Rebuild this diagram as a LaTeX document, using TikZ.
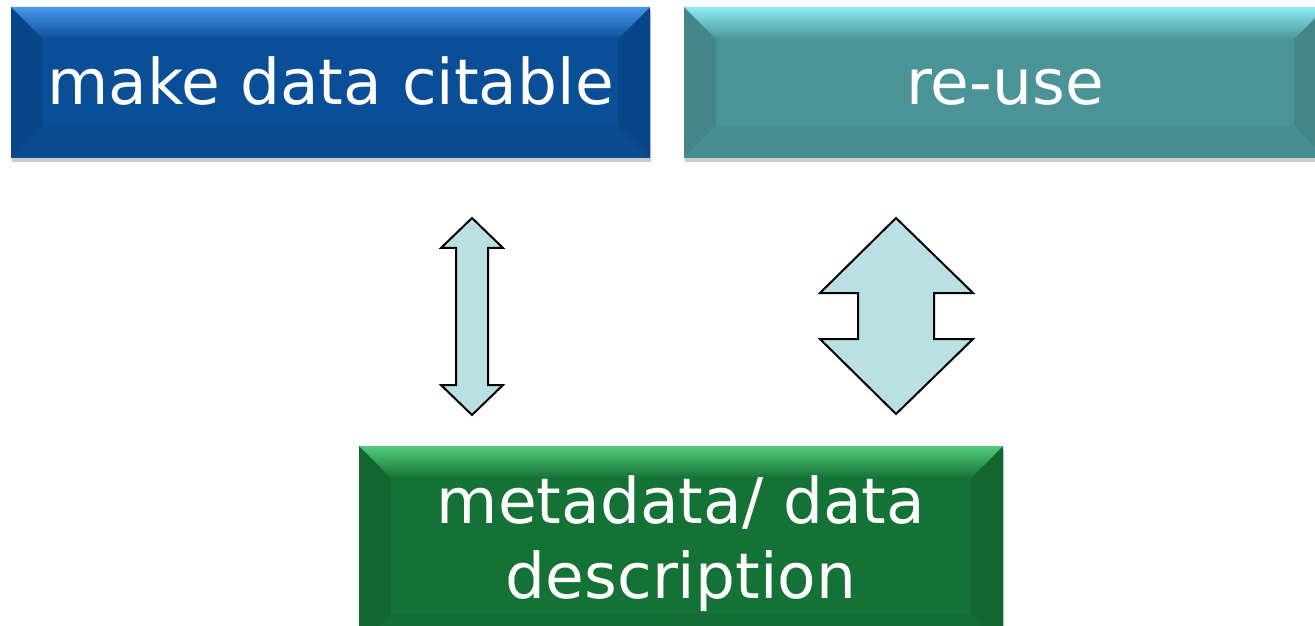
\documentclass[tikz,border=0pt]{standalone}
\usepackage{fontspec}
\setmainfont{DejaVu Sans}
\usetikzlibrary{calc,shadows}

\definecolor{citeblue}{RGB}{10,78,152}
\definecolor{citelight}{RGB}{72,152,236}
\definecolor{reuseteal}{RGB}{74,148,152}
\definecolor{reuselight}{RGB}{142,236,246}
\definecolor{metagreen}{RGB}{20,114,54}
\definecolor{metalight}{RGB}{82,204,124}
\definecolor{arrowfill}{RGB}{186,224,228}

\begin{document}
\begin{tikzpicture}[
    x=1pt, y=1pt,
    box/.style={inner sep=0pt, text=white,
        font=\fontsize{63}{75}\selectfont,
        drop shadow={shadow xshift=1pt, shadow yshift=-4pt, opacity=0.2, fill=black}},
    bevel/.style 2 args={fill=#1, path picture={
        \coordinate (nw) at (path picture bounding box.north west);
        \coordinate (ne) at (path picture bounding box.north east);
        \coordinate (sw) at (path picture bounding box.south west);
        \coordinate (se) at (path picture bounding box.south east);
        \fill[#1!90!black] (nw) -- ($(nw)+(32,-32)$) -- ($(sw)+(32,32)$) -- (sw) -- cycle;
        \fill[#1!90!black] (ne) -- ($(ne)+(-32,-32)$) -- ($(se)+(-32,32)$) -- (se) -- cycle;
        \fill[#1!96!black] (sw) -- ($(sw)+(32,32)$) -- ($(se)+(-32,32)$) -- (se) -- cycle;
        \shade[top color=#2, middle color=#1, bottom color=#1] (nw) -- (ne) -- ($(ne)+(-32,-32)$) -- ($(nw)+(32,-32)$) -- cycle;
    }},
    blockarrow/.style={fill=arrowfill, draw=black, line width=2pt, line join=miter}
    ]
\useasboundingbox (0,0) rectangle (1315,625);
\clip (0,0) rectangle (1315,625);
% top row
\node (cite) [box, bevel={citeblue}{citelight}, minimum width=639, minimum height=151,
    text height=45, text depth=0] at (330.5,542.5) {make data citable};
\node (reuse) [box, bevel={reuseteal}{reuselight}, minimum width=642, minimum height=151,
    text height=45, text depth=0] at (1005,542.5) {re-use};
% bottom
\node (meta) [box, bevel={metagreen}{metalight}, minimum width=644, minimum height=200,
    align=center, text height=123, text depth=19] at (681,79) {metadata/ data\\description};
% double arrows
\draw[blockarrow] (472,407) -- (503,377) -- (488,377) -- (488,240) -- (503,240) -- (472,210)
    -- (441,240) -- (456,240) -- (456,377) -- (441,377) -- cycle;
\draw[blockarrow] (896,407) -- (973,332) -- (934,332) -- (934,286) -- (973,286) -- (896,211)
    -- (820,286) -- (858,286) -- (858,332) -- (820,332) -- cycle;
\end{tikzpicture}
\end{document}
